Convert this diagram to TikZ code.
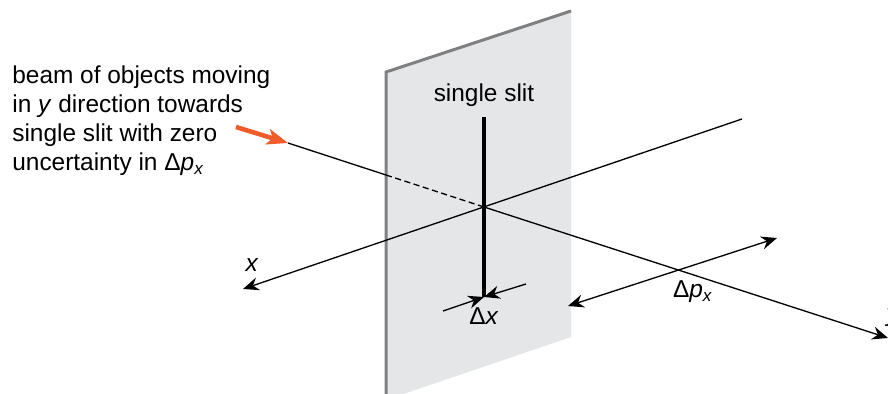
\documentclass[tikz,border=0pt]{standalone}
\usepackage{fontspec}
\setmainfont{Liberation Sans}
\usetikzlibrary{arrows.meta}
\definecolor{panelgrey}{RGB}{229,230,232}
\definecolor{edgegrey}{RGB}{128,128,130}
\definecolor{beamorange}{RGB}{241,90,41}
\begin{document}
\begin{tikzpicture}[x=0.02cm,y=-0.02cm,
  axis/.style={line width=0.75pt},
  tip/.style={-{Stealth[length=9pt,width=7.5pt,inset=3pt]}},
  tips/.style={{Stealth[length=9pt,width=7.5pt,inset=3pt]}-{Stealth[length=9pt,width=7.5pt,inset=3pt]}},
  lbl/.style={font=\fontsize{13.9}{16.6}\selectfont,inner sep=0pt}]
\useasboundingbox (0,0) rectangle (888,394);
\clip (0,0) rectangle (888,394);
\coordinate (tl) at (386,72);
\coordinate (tr) at (571,11);
\coordinate (br) at (571,337);
\coordinate (bl) at (386,400);
\coordinate (centre) at (484,207);
\coordinate (slitend) at (484,297);
% slit screen
\fill[panelgrey] (tl) -- (tr) -- (br) -- (bl) -- cycle;
\draw[edgegrey,line width=1.7pt] (bl) -- (tl) -- (tr);
\draw[line width=2.3pt] (484,117) -- (slitend);
% axes
\coordinate (beamstart) at (288,143);
\coordinate (beamin) at (386,175);
\coordinate (yend) at (888,338);
\coordinate (xback) at (742,119);
\coordinate (xend) at (243,289);
\draw[axis] (beamstart) -- (beamin);
\draw[axis,dashed,dash pattern=on 3.5pt off 2pt] (beamin) -- (centre);
\draw[axis,tip] (centre) -- (yend);
\draw[axis,tip] (xback) -- (xend);
% orange arrow
\coordinate (orangestart) at (236,127);
\draw[beamorange,line width=2.6pt,-{Stealth[length=12pt,width=9pt,inset=3pt]}] (orangestart) -- (beamstart);
% width arrows
\coordinate (dxa) at (443,311);
\coordinate (dxb) at (526,284);
\draw[axis,tip] (dxa) -- (slitend);
\draw[axis,tip] (dxb) -- (slitend);
\coordinate (dpa) at (568,306);
\coordinate (dpb) at (777,238);
\draw[axis,tips] (dpa) -- (dpb);
% labels
\node[lbl,anchor=north west,align=left] (beamlabel) at (12,65) {beam of objects moving\\in \textit{y} direction towards\\single slit with zero\\uncertainty in Δ\textit{p}\textsubscript{\textit{x}}};
\node[lbl] (slitlabel) at (484,95) {single slit};
\node[lbl] (xlabel) at (252,265) {\textit{x}};
\node[lbl] (ylabel) at (893,318) {\textit{y}};
\node[lbl] (dxlabel) at (484,316) {Δ\textit{x}};
\node[lbl] (dplabel) at (693,292) {Δ\textit{p}\textsubscript{\textit{x}}};
\end{tikzpicture}
\end{document}
